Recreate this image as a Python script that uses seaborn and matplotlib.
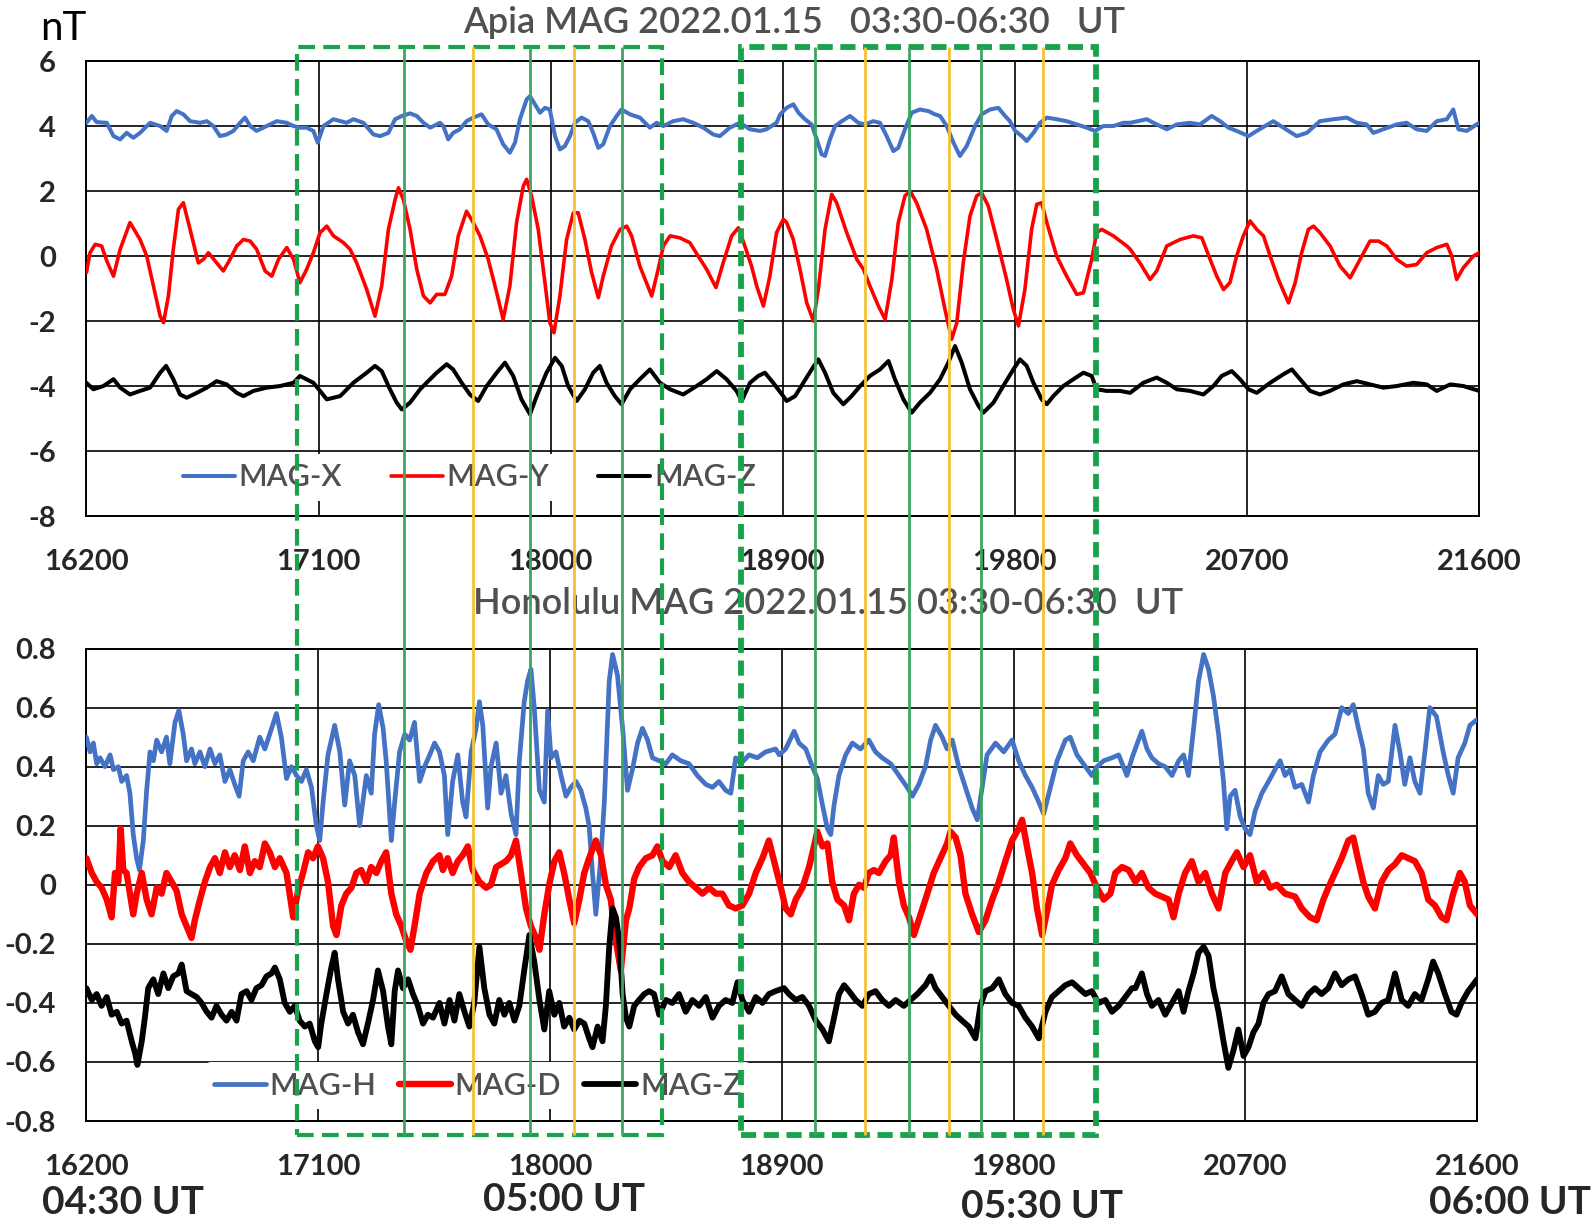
import numpy as np
import matplotlib
matplotlib.use("Agg")
import matplotlib.pyplot as plt
from matplotlib.patches import Rectangle
import seaborn as sns

sns.set_style("white")
plt.rcParams['font.family'] = ['Lato', 'DejaVu Sans']

# ---- Apia (top panel), (seconds of day, nT) ----
mag_x = [(16200, 4.10), (16221, 4.31), (16240, 4.12), (16279, 4.10), (16305, 3.69), (16331, 3.59),
         (16356, 3.79), (16382, 3.64), (16408, 3.79), (16447, 4.10), (16486, 4.00), (16511, 3.85),
         (16531, 4.31), (16550, 4.46), (16576, 4.36), (16602, 4.15), (16641, 4.10), (16667, 4.15),
         (16692, 4.00), (16718, 3.69), (16744, 3.74), (16770, 3.85), (16796, 4.10), (16815, 4.26),
         (16835, 4.00), (16860, 3.85), (16899, 4.00), (16938, 4.15), (16977, 4.10), (17003, 4.00),
         (17028, 3.95), (17054, 3.95), (17080, 3.85), (17097, 3.49), (17119, 4.00), (17158, 4.21),
         (17209, 4.10), (17235, 4.21), (17274, 4.10), (17313, 3.74), (17339, 3.69), (17371, 3.79),
         (17397, 4.21), (17423, 4.31), (17455, 4.39), (17481, 4.31), (17507, 4.10), (17533, 3.95),
         (17571, 4.10), (17584, 4.00), (17603, 3.59), (17622, 3.79), (17648, 3.90), (17674, 4.15),
         (17700, 4.26), (17732, 4.36), (17758, 4.05), (17790, 3.90), (17816, 3.44), (17842, 3.18),
         (17862, 3.49), (17881, 4.21), (17907, 4.82), (17920, 4.92), (17939, 4.67), (17959, 4.41),
         (17978, 4.56), (17997, 4.51), (18017, 3.69), (18036, 3.28), (18055, 3.38), (18075, 3.69),
         (18094, 4.10), (18120, 4.26), (18146, 4.15), (18165, 3.79), (18185, 3.33), (18204, 3.44),
         (18230, 4.00), (18256, 4.31), (18275, 4.51), (18308, 4.36), (18346, 4.26), (18385, 3.95),
         (18411, 4.10), (18437, 4.00), (18475, 4.15), (18514, 4.21), (18553, 4.10), (18592, 3.95),
         (18631, 3.74), (18656, 3.69), (18695, 3.95), (18734, 4.10), (18773, 3.90), (18812, 3.85),
         (18837, 3.90), (18876, 4.10), (18890, 4.36), (18915, 4.56), (18941, 4.67), (18961, 4.41),
         (18986, 4.21), (19012, 4.05), (19032, 3.59), (19051, 3.13), (19064, 3.08), (19083, 3.59),
         (19103, 4.00), (19129, 4.15), (19161, 4.31), (19193, 4.10), (19219, 4.05), (19251, 4.15),
         (19277, 4.10), (19303, 3.69), (19329, 3.23), (19348, 3.33), (19374, 3.90), (19400, 4.41),
         (19432, 4.51), (19465, 4.46), (19490, 4.36), (19510, 4.31), (19536, 4.00), (19562, 3.49),
         (19587, 3.08), (19613, 3.38), (19646, 4.00), (19671, 4.36), (19704, 4.51), (19736, 4.56),
         (19762, 4.31), (19781, 4.15), (19801, 3.85), (19827, 3.69), (19846, 3.54), (19872, 3.79),
         (19898, 4.10), (19924, 4.26), (19962, 4.21), (20001, 4.15), (20040, 4.05), (20079, 3.95),
         (20111, 3.85), (20143, 4.00), (20182, 4.00), (20221, 4.10), (20247, 4.10), (20311, 4.21),
         (20350, 4.05), (20389, 3.90), (20428, 4.05), (20479, 4.10), (20518, 4.05), (20563, 4.31),
         (20596, 4.15), (20628, 3.95), (20660, 3.85), (20706, 3.69), (20738, 3.85), (20802, 4.15),
         (20841, 3.95), (20893, 3.69), (20932, 3.79), (20983, 4.15), (21035, 4.21), (21087, 4.26),
         (21126, 4.10), (21164, 4.05), (21190, 3.79), (21229, 3.90), (21281, 4.05), (21319, 4.10),
         (21358, 3.90), (21397, 3.85), (21436, 4.15), (21475, 4.21), (21500, 4.51), (21520, 3.90),
         (21552, 3.85), (21600, 4.10)]

mag_y = [(16200, -0.51), (16214, 0.10), (16234, 0.36), (16259, 0.31), (16279, -0.15), (16305, -0.62),
         (16331, 0.21), (16369, 1.03), (16408, 0.51), (16434, 0.00), (16460, -0.92), (16486, -1.85),
         (16499, -2.05), (16518, -1.23), (16537, 0.21), (16557, 1.44), (16576, 1.64), (16602, 0.82),
         (16634, -0.21), (16654, -0.10), (16673, 0.10), (16699, -0.15), (16731, -0.46), (16757, -0.10),
         (16783, 0.31), (16809, 0.51), (16835, 0.46), (16860, 0.21), (16893, -0.46), (16919, -0.62),
         (16945, -0.10), (16977, 0.26), (17003, -0.10), (17028, -0.82), (17054, -0.41), (17080, 0.10),
         (17106, 0.72), (17132, 0.92), (17158, 0.62), (17197, 0.41), (17222, 0.21), (17248, -0.21),
         (17287, -1.03), (17319, -1.85), (17345, -0.92), (17371, 0.82), (17397, 1.74), (17410, 2.10),
         (17429, 1.74), (17455, 0.82), (17481, -0.41), (17507, -1.23), (17533, -1.44), (17558, -1.18),
         (17590, -1.18), (17616, -0.62), (17642, 0.62), (17674, 1.38), (17700, 1.03), (17726, 0.62),
         (17758, -0.10), (17791, -1.13), (17816, -1.95), (17842, -0.92), (17868, 1.03), (17894, 2.15),
         (17907, 2.36), (17926, 1.85), (17952, 0.82), (17978, -0.82), (17997, -2.05), (18013, -2.36),
         (18036, -1.23), (18062, 0.51), (18088, 1.33), (18107, 1.33), (18133, 0.51), (18159, -0.51),
         (18185, -1.28), (18204, -0.62), (18236, 0.31), (18269, 0.82), (18295, 0.92), (18314, 0.62),
         (18346, -0.31), (18392, -1.23), (18417, -0.41), (18437, 0.31), (18463, 0.62), (18501, 0.56),
         (18540, 0.41), (18572, 0.00), (18605, -0.41), (18641, -0.97), (18669, -0.21), (18702, 0.62),
         (18728, 0.87), (18753, 0.31), (18779, -0.31), (18799, -0.92), (18825, -1.54), (18850, -0.62),
         (18876, 0.72), (18902, 1.13), (18915, 1.03), (18941, 0.51), (18967, -0.41), (18993, -1.44),
         (19019, -2.00), (19038, -1.03), (19064, 0.82), (19090, 1.90), (19109, 1.64), (19148, 0.72),
         (19187, -0.10), (19213, -0.41), (19238, -0.92), (19271, -1.54), (19297, -1.95), (19323, -0.72),
         (19348, 1.03), (19374, 1.85), (19394, 2.00), (19419, 1.64), (19458, 0.82), (19497, -0.41),
         (19529, -1.64), (19555, -2.56), (19575, -2.05), (19600, -0.21), (19626, 1.23), (19652, 1.85),
         (19671, 1.95), (19697, 1.54), (19730, 0.51), (19768, -0.72), (19794, -1.64), (19814, -2.15),
         (19839, -1.03), (19865, 0.82), (19885, 1.59), (19904, 1.64), (19924, 1.03), (19962, 0.00),
         (20001, -0.62), (20040, -1.18), (20066, -1.13), (20098, -0.10), (20117, 0.72), (20137, 0.82),
         (20182, 0.62), (20234, 0.31), (20247, 0.21), (20285, -0.21), (20324, -0.72), (20350, -0.46),
         (20389, 0.31), (20441, 0.51), (20492, 0.62), (20525, 0.56), (20557, -0.10), (20583, -0.62),
         (20609, -1.03), (20634, -0.82), (20660, 0.00), (20686, 0.62), (20712, 1.08), (20738, 0.82),
         (20764, 0.62), (20790, 0.00), (20822, -0.72), (20861, -1.44), (20887, -0.82), (20912, 0.10),
         (20938, 0.82), (20958, 0.92), (20983, 0.72), (21022, 0.31), (21061, -0.31), (21100, -0.67),
         (21139, -0.10), (21177, 0.46), (21210, 0.46), (21242, 0.31), (21281, -0.10), (21319, -0.31),
         (21358, -0.26), (21397, 0.10), (21436, 0.26), (21475, 0.36), (21494, 0.00), (21513, -0.72),
         (21539, -0.36), (21578, 0.00), (21600, 0.10)]

mag_z_apia = [(16200, -3.90), (16227, -4.10), (16266, -4.00), (16305, -3.79), (16331, -4.05),
              (16369, -4.26), (16408, -4.15), (16447, -4.05), (16486, -3.59), (16509, -3.38),
              (16537, -3.79), (16563, -4.26), (16589, -4.36), (16628, -4.21), (16667, -4.05),
              (16705, -3.85), (16744, -3.95), (16783, -4.21), (16809, -4.31), (16848, -4.15),
              (16899, -4.05), (16951, -4.00), (17003, -3.90), (17028, -3.69), (17080, -3.90),
              (17106, -4.15), (17132, -4.41), (17184, -4.31), (17235, -3.90), (17287, -3.59),
              (17319, -3.38), (17345, -3.54), (17377, -4.10), (17403, -4.51), (17423, -4.72),
              (17455, -4.51), (17494, -4.10), (17533, -3.79), (17558, -3.59), (17597, -3.33),
              (17622, -3.49), (17655, -3.90), (17687, -4.26), (17719, -4.46), (17752, -4.00),
              (17791, -3.59), (17823, -3.28), (17855, -3.69), (17887, -4.41), (17920, -4.87),
              (17946, -4.31), (17984, -3.59), (18017, -3.13), (18043, -3.38), (18068, -4.00),
              (18101, -4.46), (18133, -4.10), (18165, -3.59), (18191, -3.38), (18217, -3.90),
              (18249, -4.31), (18275, -4.56), (18308, -4.10), (18346, -3.79), (18385, -3.49),
              (18424, -3.90), (18463, -4.10), (18514, -4.26), (18566, -4.00), (18605, -3.79),
              (18644, -3.54), (18682, -3.79), (18721, -4.15), (18741, -4.46), (18773, -3.90),
              (18805, -3.69), (18831, -3.59), (18863, -3.90), (18902, -4.31), (18915, -4.46),
              (18948, -4.31), (18980, -3.90), (19012, -3.49), (19038, -3.18), (19064, -3.59),
              (19096, -4.21), (19135, -4.56), (19167, -4.31), (19200, -4.00), (19238, -3.69),
              (19277, -3.49), (19310, -3.23), (19335, -3.79), (19368, -4.41), (19400, -4.82),
              (19432, -4.51), (19471, -4.21), (19510, -3.79), (19542, -3.28), (19568, -2.77),
              (19594, -3.28), (19626, -4.10), (19659, -4.61), (19678, -4.82), (19717, -4.51),
              (19755, -4.00), (19794, -3.49), (19820, -3.18), (19846, -3.38), (19872, -3.90),
              (19904, -4.41), (19924, -4.56), (19949, -4.31), (19988, -4.00), (20027, -3.79),
              (20066, -3.59), (20098, -3.69), (20117, -4.10), (20156, -4.15), (20208, -4.15),
              (20247, -4.21), (20298, -3.90), (20350, -3.74), (20389, -3.90), (20428, -4.10),
              (20479, -4.15), (20531, -4.26), (20570, -4.00), (20602, -3.69), (20641, -3.54),
              (20673, -3.79), (20706, -4.10), (20738, -4.21), (20790, -3.90), (20841, -3.64),
              (20874, -3.49), (20906, -3.79), (20945, -4.15), (20983, -4.26), (21022, -4.15),
              (21074, -3.95), (21126, -3.85), (21177, -3.95), (21229, -4.05), (21281, -4.00),
              (21345, -3.90), (21397, -3.95), (21436, -4.15), (21488, -3.95), (21539, -4.00),
              (21600, -4.15)]

# ---- Honolulu (bottom panel) ----
mag_h = [(16200, 0.50), (16214, 0.45), (16227, 0.48), (16240, 0.41), (16253, 0.43), (16272, 0.40),
         (16292, 0.44), (16305, 0.39), (16324, 0.40), (16337, 0.35), (16356, 0.37), (16369, 0.31),
         (16382, 0.17), (16395, 0.09), (16406, 0.05), (16421, 0.15), (16434, 0.32), (16447, 0.45),
         (16460, 0.42), (16473, 0.49), (16492, 0.45), (16511, 0.50), (16524, 0.41), (16544, 0.55),
         (16559, 0.59), (16576, 0.51), (16589, 0.42), (16608, 0.46), (16621, 0.41), (16641, 0.45),
         (16660, 0.40), (16680, 0.46), (16699, 0.41), (16718, 0.44), (16738, 0.35), (16757, 0.39),
         (16776, 0.34), (16793, 0.30), (16809, 0.42), (16828, 0.45), (16848, 0.42), (16873, 0.50),
         (16893, 0.46), (16919, 0.53), (16938, 0.58), (16957, 0.50), (16977, 0.36), (16996, 0.40),
         (17016, 0.37), (17035, 0.35), (17054, 0.39), (17074, 0.33), (17093, 0.20), (17106, 0.15),
         (17119, 0.28), (17138, 0.44), (17164, 0.54), (17184, 0.45), (17203, 0.27), (17222, 0.42),
         (17242, 0.37), (17261, 0.20), (17287, 0.37), (17306, 0.31), (17319, 0.51), (17335, 0.61),
         (17352, 0.53), (17364, 0.42), (17384, 0.15), (17397, 0.28), (17416, 0.45), (17436, 0.51),
         (17455, 0.49), (17474, 0.55), (17494, 0.35), (17513, 0.40), (17533, 0.44), (17552, 0.48),
         (17571, 0.45), (17590, 0.37), (17603, 0.17), (17622, 0.35), (17642, 0.44), (17661, 0.28),
         (17674, 0.23), (17694, 0.45), (17713, 0.53), (17726, 0.62), (17739, 0.54), (17758, 0.26),
         (17771, 0.40), (17791, 0.48), (17810, 0.31), (17829, 0.37), (17849, 0.24), (17868, 0.17),
         (17881, 0.42), (17900, 0.62), (17913, 0.69), (17926, 0.73), (17939, 0.60), (17959, 0.32),
         (17978, 0.28), (17991, 0.59), (18004, 0.43), (18023, 0.45), (18043, 0.37), (18062, 0.30),
         (18081, 0.33), (18101, 0.35), (18120, 0.32), (18139, 0.26), (18152, 0.20), (18165, 0.04),
         (18178, -0.10), (18198, 0.10), (18211, 0.28), (18230, 0.69), (18243, 0.78), (18262, 0.71),
         (18282, 0.53), (18301, 0.32), (18320, 0.39), (18340, 0.48), (18359, 0.53), (18379, 0.49),
         (18398, 0.43), (18424, 0.42), (18450, 0.41), (18475, 0.44), (18508, 0.42), (18540, 0.41),
         (18572, 0.37), (18605, 0.34), (18631, 0.33), (18656, 0.35), (18682, 0.32), (18702, 0.31),
         (18721, 0.43), (18741, 0.41), (18773, 0.44), (18805, 0.43), (18837, 0.45), (18876, 0.46),
         (18890, 0.44), (18915, 0.46), (18948, 0.52), (18967, 0.48), (18993, 0.46), (19019, 0.40),
         (19038, 0.36), (19058, 0.27), (19077, 0.19), (19090, 0.17), (19103, 0.27), (19122, 0.37),
         (19148, 0.44), (19174, 0.48), (19206, 0.46), (19238, 0.49), (19264, 0.45), (19290, 0.43),
         (19323, 0.41), (19355, 0.37), (19387, 0.33), (19407, 0.30), (19432, 0.34), (19458, 0.40),
         (19478, 0.49), (19497, 0.54), (19523, 0.50), (19542, 0.46), (19562, 0.49), (19587, 0.40),
         (19613, 0.33), (19639, 0.26), (19659, 0.22), (19678, 0.33), (19697, 0.44), (19730, 0.48),
         (19762, 0.45), (19794, 0.49), (19820, 0.42), (19846, 0.37), (19872, 0.33), (19898, 0.28),
         (19917, 0.24), (19943, 0.33), (19969, 0.42), (20001, 0.49), (20020, 0.50), (20046, 0.44),
         (20079, 0.40), (20104, 0.37), (20124, 0.40), (20150, 0.42), (20182, 0.43), (20208, 0.44),
         (20240, 0.37), (20260, 0.43), (20285, 0.49), (20298, 0.52), (20318, 0.46), (20337, 0.43),
         (20363, 0.41), (20389, 0.40), (20415, 0.37), (20441, 0.42), (20460, 0.44), (20479, 0.37),
         (20499, 0.53), (20518, 0.69), (20538, 0.78), (20557, 0.73), (20576, 0.64), (20596, 0.51),
         (20615, 0.35), (20628, 0.19), (20641, 0.30), (20660, 0.32), (20680, 0.23), (20699, 0.19),
         (20718, 0.17), (20738, 0.25), (20764, 0.31), (20790, 0.35), (20815, 0.39), (20835, 0.42),
         (20854, 0.37), (20874, 0.39), (20893, 0.33), (20919, 0.34), (20945, 0.28), (20964, 0.37),
         (20990, 0.45), (21022, 0.49), (21048, 0.51), (21074, 0.60), (21100, 0.58), (21119, 0.61),
         (21139, 0.53), (21158, 0.46), (21177, 0.31), (21197, 0.26), (21216, 0.37), (21235, 0.34),
         (21255, 0.35), (21281, 0.54), (21300, 0.45), (21319, 0.34), (21339, 0.43), (21358, 0.35),
         (21378, 0.31), (21397, 0.45), (21416, 0.60), (21442, 0.57), (21468, 0.45), (21488, 0.37),
         (21507, 0.31), (21526, 0.43), (21552, 0.48), (21572, 0.54), (21600, 0.56)]

mag_d = [(16200, 0.09), (16221, 0.04), (16240, 0.01), (16259, -0.01), (16279, -0.05), (16298, -0.11),
         (16311, 0.04), (16324, 0.01), (16333, 0.19), (16343, 0.05), (16356, 0.04), (16369, -0.03),
         (16382, -0.10), (16395, -0.03), (16415, 0.04), (16434, -0.05), (16453, -0.10), (16473, -0.01),
         (16492, -0.03), (16511, 0.04), (16531, 0.01), (16550, -0.02), (16570, -0.10), (16589, -0.14),
         (16608, -0.18), (16621, -0.12), (16641, -0.05), (16660, 0.01), (16680, 0.06), (16699, 0.09),
         (16718, 0.04), (16738, 0.11), (16757, 0.06), (16776, 0.10), (16796, 0.05), (16815, 0.13),
         (16835, 0.04), (16854, 0.08), (16873, 0.06), (16893, 0.14), (16912, 0.11), (16932, 0.06),
         (16951, 0.09), (16977, 0.04), (17003, -0.11), (17022, -0.02), (17041, 0.04), (17061, 0.11),
         (17080, 0.09), (17099, 0.13), (17119, 0.09), (17138, 0.01), (17158, -0.14), (17171, -0.17),
         (17190, -0.07), (17209, -0.03), (17229, -0.01), (17248, 0.04), (17267, 0.05), (17287, 0.01),
         (17306, 0.06), (17326, 0.04), (17345, 0.08), (17364, 0.11), (17384, -0.03), (17403, -0.10),
         (17423, -0.14), (17442, -0.19), (17458, -0.22), (17474, -0.14), (17494, -0.03), (17520, 0.04),
         (17546, 0.08), (17571, 0.10), (17584, 0.05), (17603, 0.09), (17622, 0.04), (17642, 0.08),
         (17661, 0.10), (17681, 0.13), (17700, 0.05), (17726, 0.01), (17752, -0.01), (17771, 0.00),
         (17791, 0.06), (17810, 0.07), (17829, 0.08), (17849, 0.10), (17868, 0.15), (17887, 0.04),
         (17907, -0.08), (17926, -0.14), (17946, -0.18), (17959, -0.22), (17978, -0.10), (17997, 0.00),
         (18017, 0.08), (18036, 0.11), (18055, 0.04), (18075, -0.05), (18094, -0.13), (18114, -0.05),
         (18133, 0.04), (18152, 0.09), (18178, 0.15), (18198, 0.10), (18217, 0.00), (18236, -0.05),
         (18256, -0.19), (18275, -0.29), (18295, -0.12), (18308, -0.08), (18327, 0.02), (18346, 0.06),
         (18372, 0.09), (18398, 0.10), (18417, 0.13), (18437, 0.08), (18463, 0.06), (18488, 0.10),
         (18514, 0.04), (18540, 0.01), (18566, -0.01), (18592, -0.03), (18618, -0.01), (18644, -0.03),
         (18669, -0.03), (18695, -0.07), (18721, -0.08), (18747, -0.07), (18773, -0.03), (18799, 0.04),
         (18825, 0.09), (18850, 0.15), (18876, 0.06), (18902, -0.03), (18915, -0.08), (18935, -0.10),
         (18954, -0.05), (18980, -0.01), (19006, 0.06), (19025, 0.13), (19038, 0.18), (19058, 0.13),
         (19077, 0.14), (19096, 0.01), (19116, -0.05), (19142, -0.07), (19161, -0.12), (19180, -0.03),
         (19200, 0.00), (19219, -0.01), (19238, 0.04), (19258, 0.05), (19277, 0.04), (19303, 0.08),
         (19323, 0.10), (19335, 0.16), (19355, 0.01), (19374, -0.07), (19394, -0.11), (19413, -0.17),
         (19439, -0.10), (19465, -0.03), (19490, 0.04), (19516, 0.09), (19542, 0.14), (19555, 0.18),
         (19575, 0.16), (19594, 0.10), (19613, -0.03), (19639, -0.10), (19665, -0.16), (19691, -0.12),
         (19717, -0.05), (19743, 0.01), (19768, 0.08), (19794, 0.15), (19820, 0.19), (19833, 0.22),
         (19852, 0.13), (19872, 0.04), (19891, -0.08), (19911, -0.17), (19930, -0.09), (19949, 0.00),
         (19975, 0.05), (20001, 0.09), (20020, 0.14), (20046, 0.10), (20072, 0.07), (20098, 0.04),
         (20124, -0.01), (20150, -0.05), (20176, -0.03), (20195, 0.04), (20221, 0.06), (20247, 0.05),
         (20273, 0.01), (20298, 0.04), (20324, -0.01), (20350, -0.03), (20376, -0.04), (20402, -0.05),
         (20421, -0.11), (20441, -0.03), (20466, 0.04), (20492, 0.08), (20518, 0.01), (20544, 0.04),
         (20570, -0.03), (20596, -0.08), (20622, 0.04), (20647, 0.08), (20667, 0.11), (20693, 0.06),
         (20718, 0.10), (20744, 0.01), (20770, 0.04), (20796, -0.01), (20822, 0.00), (20854, -0.03),
         (20893, -0.04), (20919, -0.08), (20951, -0.11), (20977, -0.12), (21003, -0.05), (21022, -0.01),
         (21048, 0.04), (21074, 0.09), (21100, 0.15), (21119, 0.16), (21139, 0.08), (21158, 0.01),
         (21177, -0.04), (21203, -0.08), (21229, 0.01), (21255, 0.05), (21281, 0.07), (21307, 0.10),
         (21332, 0.09), (21358, 0.08), (21384, 0.04), (21410, -0.05), (21436, -0.07), (21462, -0.11),
         (21481, -0.12), (21507, -0.03), (21533, 0.04), (21552, 0.01), (21572, -0.07), (21600, -0.10)]

mag_z_hon = [(16200, -0.35), (16221, -0.39), (16240, -0.37), (16259, -0.41), (16279, -0.38),
             (16298, -0.44), (16318, -0.43), (16337, -0.47), (16356, -0.46), (16376, -0.53),
             (16389, -0.57), (16398, -0.61), (16415, -0.53), (16427, -0.45), (16440, -0.35),
             (16460, -0.32), (16479, -0.37), (16499, -0.30), (16518, -0.35), (16537, -0.31),
             (16557, -0.30), (16570, -0.27), (16589, -0.36), (16608, -0.37), (16628, -0.38),
             (16647, -0.40), (16667, -0.43), (16686, -0.45), (16705, -0.41), (16725, -0.44),
             (16744, -0.46), (16764, -0.43), (16783, -0.46), (16802, -0.37), (16822, -0.36),
             (16841, -0.39), (16860, -0.35), (16880, -0.34), (16899, -0.31), (16919, -0.30),
             (16932, -0.28), (16951, -0.32), (16970, -0.40), (16990, -0.43), (17009, -0.41),
             (17028, -0.46), (17048, -0.48), (17067, -0.47), (17087, -0.53), (17100, -0.55),
             (17112, -0.47), (17132, -0.37), (17151, -0.28), (17164, -0.23), (17177, -0.32),
             (17197, -0.43), (17216, -0.47), (17235, -0.44), (17255, -0.50), (17274, -0.54),
             (17293, -0.47), (17313, -0.39), (17332, -0.29), (17352, -0.36), (17371, -0.48),
             (17384, -0.54), (17397, -0.36), (17410, -0.29), (17429, -0.35), (17449, -0.32),
             (17468, -0.37), (17487, -0.41), (17507, -0.47), (17526, -0.44), (17546, -0.45),
             (17571, -0.40), (17590, -0.47), (17610, -0.39), (17629, -0.46), (17648, -0.37),
             (17668, -0.43), (17687, -0.48), (17706, -0.40), (17726, -0.21), (17745, -0.35),
             (17765, -0.44), (17784, -0.47), (17803, -0.39), (17823, -0.44), (17842, -0.40),
             (17862, -0.46), (17881, -0.41), (17900, -0.29), (17920, -0.17), (17939, -0.26),
             (17959, -0.39), (17978, -0.49), (17997, -0.36), (18017, -0.44), (18036, -0.40),
             (18055, -0.48), (18075, -0.45), (18094, -0.49), (18114, -0.46), (18133, -0.47),
             (18152, -0.52), (18165, -0.55), (18185, -0.48), (18204, -0.53), (18217, -0.41),
             (18230, -0.21), (18243, -0.08), (18256, -0.11), (18269, -0.19), (18282, -0.37),
             (18295, -0.45), (18308, -0.48), (18327, -0.41), (18346, -0.39), (18366, -0.37),
             (18385, -0.36), (18404, -0.37), (18424, -0.44), (18450, -0.39), (18475, -0.40),
             (18501, -0.37), (18527, -0.43), (18553, -0.39), (18579, -0.41), (18605, -0.38),
             (18631, -0.45), (18656, -0.41), (18682, -0.39), (18708, -0.40), (18728, -0.33),
             (18747, -0.39), (18773, -0.43), (18799, -0.38), (18825, -0.40), (18850, -0.37),
             (18876, -0.36), (18909, -0.35), (18928, -0.37), (18954, -0.39), (18980, -0.38),
             (19006, -0.41), (19032, -0.46), (19058, -0.49), (19083, -0.53), (19103, -0.45),
             (19122, -0.37), (19142, -0.34), (19161, -0.36), (19187, -0.39), (19213, -0.41),
             (19238, -0.37), (19264, -0.36), (19290, -0.39), (19316, -0.41), (19342, -0.39),
             (19374, -0.41), (19400, -0.39), (19426, -0.37), (19458, -0.34), (19478, -0.31),
             (19497, -0.35), (19523, -0.38), (19549, -0.41), (19575, -0.44), (19600, -0.46),
             (19626, -0.48), (19652, -0.52), (19671, -0.41), (19691, -0.36), (19717, -0.35),
             (19743, -0.32), (19768, -0.37), (19794, -0.40), (19820, -0.41), (19846, -0.45),
             (19872, -0.48), (19898, -0.52), (19924, -0.43), (19949, -0.38), (19975, -0.36),
             (20001, -0.34), (20027, -0.33), (20053, -0.35), (20079, -0.37), (20104, -0.36),
             (20130, -0.40), (20156, -0.39), (20182, -0.43), (20208, -0.41), (20234, -0.38),
             (20260, -0.35), (20273, -0.35), (20298, -0.30), (20318, -0.37), (20337, -0.41),
             (20363, -0.39), (20389, -0.44), (20415, -0.40), (20441, -0.36), (20460, -0.43),
             (20479, -0.36), (20499, -0.30), (20518, -0.23), (20538, -0.21), (20557, -0.24),
             (20576, -0.35), (20596, -0.43), (20615, -0.53), (20634, -0.62), (20654, -0.56),
             (20673, -0.49), (20693, -0.58), (20712, -0.55), (20731, -0.50), (20751, -0.47),
             (20770, -0.40), (20790, -0.37), (20815, -0.36), (20841, -0.31), (20867, -0.37),
             (20893, -0.39), (20919, -0.41), (20945, -0.37), (20970, -0.35), (20996, -0.37),
             (21022, -0.35), (21048, -0.30), (21074, -0.34), (21100, -0.32), (21126, -0.31),
             (21151, -0.37), (21177, -0.44), (21203, -0.43), (21229, -0.40), (21255, -0.39),
             (21281, -0.30), (21307, -0.39), (21332, -0.41), (21358, -0.37), (21384, -0.39),
             (21410, -0.32), (21429, -0.26), (21449, -0.30), (21475, -0.37), (21500, -0.43),
             (21520, -0.44), (21539, -0.40), (21565, -0.36), (21600, -0.32)]

x_ticks = [16200, 17100, 18000, 18900, 19800, 20700, 21600]
top_yticks = [6, 4, 2, 0, -2, -4, -6, -8]
bottom_yticks = [0.8, 0.6, 0.4, 0.2, 0, -0.2, -0.4, -0.6, -0.8]

# marked windows / event times (seconds)
windows = [(17016, 18431), (18738, 20114)]
green_times = [17430, 17919, 18277, 19026, 19389, 19669]
yellow_times = [17698, 18092, 19219, 19546, 19909]

ut_labels = ["04:30 UT", "05:00 UT", "05:30 UT", "06:00 UT"]

BLUE, RED, BLACK = "#4472C4", "#FF0000", "#000000"
GRAY = "#595959"

fig = plt.figure(figsize=(15.94, 12.26), dpi=100)
ax1 = fig.add_axes([0.0542, 0.5791, 0.8737, 0.3711])
ax2 = fig.add_axes([0.0542, 0.0856, 0.8725, 0.3854])


def draw(ax, series, labels, colors, widths):
    for s, lab, c, w in zip(series, labels, colors, widths):
        t, v = np.array(s).T
        sns.lineplot(x=t, y=v, ax=ax, color=c, linewidth=w, label=lab,
                     estimator=None, sort=False, zorder=3)


draw(ax1, [mag_x, mag_y, mag_z_apia], ["MAG-X", "MAG-Y", "MAG-Z"],
     [BLUE, RED, BLACK], [2.9, 2.6, 2.9])
draw(ax2, [mag_h, mag_d, mag_z_hon], ["MAG-H", "MAG-D", "MAG-Z"],
     [BLUE, RED, BLACK], [3.4, 4.6, 4.2])

for ax, yt, lim in [(ax1, top_yticks, (-8, 6)), (ax2, bottom_yticks, (-0.8, 0.8))]:
    ax.set_xlim(16200, 21600)
    ax.set_ylim(*lim)
    ax.set_xticks(x_ticks)
    ax.set_xticklabels([str(t) for t in x_ticks])
    ax.set_yticks(yt)
    ax.set_yticklabels([f"{v:g}" for v in yt])
    ax.grid(True, color="black", linewidth=1.2)
    ax.set_axisbelow(True)
    for sp in ax.spines.values():
        sp.set_color("black")
        sp.set_linewidth(1.4)
    ax.tick_params(length=0, labelsize=21, pad=24)
    ax.tick_params(axis="y", pad=22)
    for lbl in ax.get_xticklabels() + ax.get_yticklabels():
        lbl.set_fontweight("bold")
    ax.set_xlabel("")
    ax.set_ylabel("")

leg_kw = dict(ncol=3, frameon=True, facecolor="white", edgecolor="none", framealpha=1,
              handlelength=1.7, handletextpad=0.12,
              labelcolor="#505050", borderpad=0.3, loc="center left",
              prop={"size": 22, "weight": "semibold"})
ax1.legend(bbox_to_anchor=(0.052, 0.085), columnspacing=1.6, **leg_kw)
ax2.legend(bbox_to_anchor=(0.074, 0.075), columnspacing=0.75, **leg_kw)

fig.text(0.4984, 0.9817, "Apia MAG 2022.01.15   03:30-06:30   UT", ha="center", va="center",
         fontsize=26, color="#505050", fontweight="semibold")
fig.text(0.5198, 0.5074, "Honolulu MAG 2022.01.15 03:30-06:30  UT", ha="center", va="center",
         fontsize=26, color="#505050", fontweight="semibold")
fig.text(0.0395, 0.9768, "nT", ha="center", va="center", fontsize=29, color="black")
for x, y, s in zip([0.0772, 0.354, 0.6537, 0.947], [0.0191, 0.0215, 0.0157, 0.0191], ut_labels):
    fig.text(x, y, s, ha="center", va="center", fontsize=28, fontweight="bold")

# overlay for the marked windows, spans both panels in figure height
ov = fig.add_axes([0.0542, 0.0, 0.8737, 1.0], zorder=10)
ov.set_xlim(16200, 21600)
ov.set_ylim(0, 1)
ov.axis("off")
ov.patch.set_alpha(0)
y0, y1 = 0.0742, 0.962
for (a, b), lw, dash in zip(windows, [3.0, 4.2], [(4, 2), (2.6, 1.3)]):
    ov.add_patch(Rectangle((a, y0), b - a, y1 - y0, fill=False, edgecolor="#17A24B",
                           linewidth=lw, linestyle=(0, dash)))
ov.vlines(green_times, y0, y1, color="#3DA562", linewidth=2.0)
ov.vlines(yellow_times, y0, y1, color="#F3C236", linewidth=2.0)

fig.savefig("out.png", dpi=100)
